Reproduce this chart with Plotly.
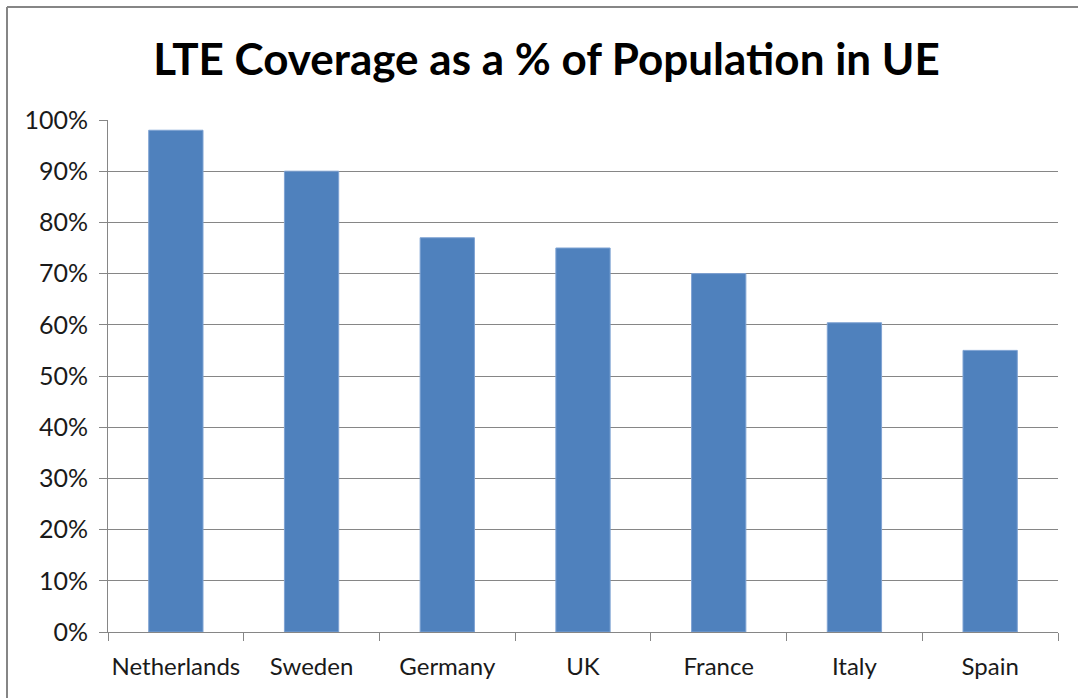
import plotly.graph_objects as go

countries = ["Netherlands", "Sweden", "Germany", "UK", "France", "Italy", "Spain"]
coverage = [0.98, 0.90, 0.77, 0.75, 0.70, 0.604, 0.55]
title_text = "LTE Coverage as a % of Population in UE"

fig = go.Figure()
fig.add_trace(go.Bar(
    x=countries, y=coverage,
    marker=dict(color="#4F81BD", line=dict(color="#7FA3D3", width=1)),
))

fig.update_layout(
    width=1078, height=698,
    margin=dict(l=108, r=20, t=120, b=66, autoexpand=False),
    paper_bgcolor="white", plot_bgcolor="white",
    bargap=0.6,
    showlegend=False,
    title=dict(text="<b>" + title_text + "</b>", x=0.507, xanchor="center", y=0.914, yanchor="middle",
               font=dict(family="Lato", size=44, color="black")),
    font=dict(family="Lato", size=24, color="black"),
)
fig.update_xaxes(
    showline=True, linecolor="#868686", linewidth=1, tickangle=0, automargin=False,
    ticks="outside", tickson="boundaries", ticklen=8, tickcolor="#868686",
    showgrid=False, tickfont=dict(size=24, color="#1a1a1a"), ticklabelstandoff=13,
)
fig.update_yaxes(
    range=[0, 1], tickvals=[i / 10 for i in range(11)], tickformat=".0%", automargin=False,
    showline=True, linecolor="#868686", linewidth=1,
    ticks="outside", ticklen=8, tickcolor="#868686",
    showgrid=True, gridcolor="#868686", gridwidth=1, zeroline=False,
    tickfont=dict(size=25, color="#1a1a1a"), ticklabelstandoff=6,
)
fig.add_shape(type="line", xref="paper", yref="paper",
              x0=-101/950, x1=1.1, y0=1 + 113/512, y1=1 + 113/512,
              line=dict(color="#868686", width=2))
fig.add_shape(type="line", xref="paper", yref="paper",
              x0=-101/950, x1=-101/950, y0=1 + 113/512, y1=-0.2,
              line=dict(color="#868686", width=2))
fig.write_html("out.html", config={"displayModeBar": False},
               post_script="document.body.style.margin='0';document.body.style.padding='0';")
